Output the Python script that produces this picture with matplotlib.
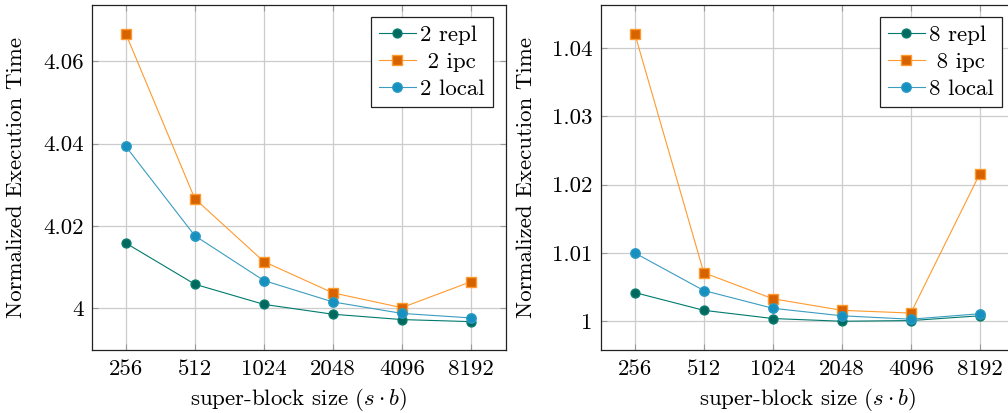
import matplotlib
matplotlib.use("Agg")
import matplotlib.pyplot as plt

plt.rcParams['font.family'] = ['cmr10', 'DejaVu Serif']
plt.rcParams['mathtext.fontset'] = 'cm'
plt.rcParams['axes.formatter.use_mathtext'] = True

# ---- data ----
block_sizes = [256, 512, 1024, 2048, 4096, 8192]
x_tick_labels = ["256", "512", "1024", "2048", "4096", "8192"]

repl_2 = [4.0158, 4.0058, 4.0009, 3.9985, 3.9972, 3.9967]
ipc_2 = [4.0667, 4.0266, 4.0113, 4.0037, 4.0001, 4.0064]
local_2 = [4.0393, 4.0176, 4.0067, 4.0015, 3.9987, 3.9976]

repl_8 = [1.0042, 1.0016, 1.0004, 1.0000, 1.0001, 1.0008]
ipc_8 = [1.0421, 1.0071, 1.0033, 1.0016, 1.0012, 1.0216]
local_8 = [1.0100, 1.0045, 1.0019, 1.0008, 1.0003, 1.0011]

left_yticks = [4.0, 4.02, 4.04, 4.06]
left_yticklabels = ["4", "4.02", "4.04", "4.06"]
right_yticks = [1.0, 1.01, 1.02, 1.03, 1.04]
right_yticklabels = ["1", "1.01", "1.02", "1.03", "1.04"]

# ---- styles ----
REPL = dict(color="#007a6e", marker="o", markersize=6.4, markerfacecolor="#00695e",
            markeredgecolor="#0a7d70", linewidth=0.8)
IPC = dict(color="#ff9a2e", marker="s", markersize=6.8, markerfacecolor="#d66300",
           markeredgecolor="#ff9a2e", linewidth=0.8)
LOCAL = dict(color="#3b9cbf", marker="o", markersize=6.8, markerfacecolor="#1690bf",
             markeredgecolor="#2a9ac4", linewidth=0.8)

FS = 16.5

fig = plt.figure(figsize=(10.08, 4.13), dpi=100)
W, H = 1008.0, 413.0


def make_ax(left_px):
    ax = fig.add_axes([left_px / W, (H - 350) / H, (506 - 92) / W, (350 - 5) / H])
    return ax


def style(ax, yticks, yticklabels, ylim):
    ax.set_xscale('log', base=2)
    ax.set_xlim(256 / 2 ** 0.49, 8192 * 2 ** 0.51)
    ax.set_xticks(block_sizes)
    ax.set_xticklabels(x_tick_labels)
    ax.minorticks_off()
    ax.set_yticks(yticks)
    ax.set_yticklabels(yticklabels)
    ax.set_ylim(*ylim)
    ax.grid(True, color="#cccccc", linewidth=0.9)
    ax.set_axisbelow(True)
    ax.tick_params(axis='both', which='major', direction='in', length=4,
                   color="#999999", labelsize=FS, top=True, right=True)
    ax.tick_params(axis='x', pad=7)
    ax.tick_params(axis='y', pad=6)
    for s in ax.spines.values():
        s.set_linewidth(0.9)
        s.set_color("#222222")
    ax.set_ylabel("Normalized Execution Time", fontsize=FS)
    ax.set_xlabel(r"super-block size $(s \cdot b)$", fontsize=FS, labelpad=5)


ax1 = make_ax(92)
ax1.plot(block_sizes, repl_2, label="2 repl", **REPL)
ax1.plot(block_sizes, ipc_2, label=" 2 ipc", **IPC)
ax1.plot(block_sizes, local_2, label="2 local", **LOCAL)
style(ax1, left_yticks, left_yticklabels, (3.9898, 4.0737))
ax1.yaxis.set_label_coords(-0.159, 0.5)

ax2 = make_ax(601)
ax2.plot(block_sizes, repl_8, label="8 repl", **REPL)
ax2.plot(block_sizes, ipc_8, label=" 8 ipc", **IPC)
ax2.plot(block_sizes, local_8, label="8 local", **LOCAL)
style(ax2, right_yticks, right_yticklabels, (0.99579, 1.04631))
ax2.yaxis.set_label_coords(-0.157, 0.5)

for ax, anchor in ((ax1, (493 / W, (H - 16.7) / H)), (ax2, (1002 / W, (H - 16.7) / H))):
    leg = ax.legend(loc="upper right", bbox_to_anchor=anchor, bbox_transform=fig.transFigure,
                    fontsize=FS, frameon=True, fancybox=False, edgecolor="#222222",
                    framealpha=1, borderaxespad=0, handlelength=1.6, handletextpad=0.2,
                    labelspacing=0.3, borderpad=0.35)
    leg.get_frame().set_linewidth(0.9)

fig.savefig("out.png", dpi=100)
